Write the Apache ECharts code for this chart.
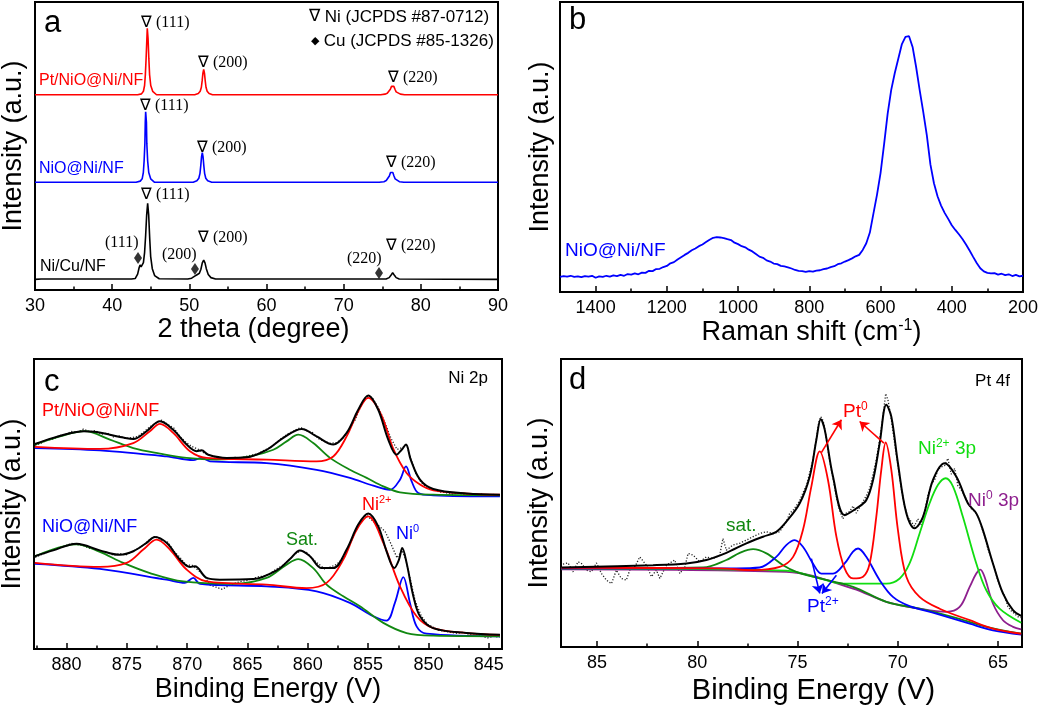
<!DOCTYPE html>
<html><head><meta charset="utf-8">
<script src="https://cdn.jsdelivr.net/npm/echarts@6/dist/echarts.min.js"></script>
<style>html,body{margin:0;padding:0;background:#fff}#c{width:1050px;height:706px}</style>
</head><body><div id="c"></div>
<script>
// ---------- Panel a: XRD ----------
const xrdPt = [[30,67.8],[43.3,67.8],[43.8,68.1],[44.05,69.0],[44.2,71.0],[44.3,74.7],[44.4,80.5],[44.5,87.4],[44.55,90.9],[44.65,87.4],[44.75,80.5],[44.85,74.7],[45.0,71.0],[45.25,69.0],[45.75,67.8],[50.7,67.8],[51.16,68.2],[51.41,69.0],[51.56,70.4],[51.66,72.6],[51.76,75.3],[51.86,76.6],[51.96,75.3],[52.06,72.6],[52.16,70.4],[52.31,69.0],[52.56,68.2],[53.0,67.8],[74.8,67.8],[75.35,68.0],[75.65,68.3],[75.9,68.8],[76.05,69.7],[76.2,70.7],[76.35,71.2],[76.5,70.7],[76.65,69.7],[76.8,68.8],[77.05,68.3],[77.35,68.0],[77.9,67.8],[90,67.8]];
const xrdNiO = [[30,37.4],[43.1,37.4],[43.64,37.8],[43.89,38.6],[44.04,40.8],[44.14,44.8],[44.24,50.9],[44.29,58.2],[44.34,61.9],[44.44,58.2],[44.49,50.9],[44.6,44.8],[44.74,40.8],[44.99,38.6],[45.5,37.4],[50.5,37.4],[50.98,37.9],[51.23,38.8],[51.38,40.5],[51.48,43.1],[51.58,46.2],[51.68,47.7],[51.78,46.2],[51.88,43.1],[51.98,40.5],[52.13,38.8],[52.38,37.9],[52.9,37.4],[74.6,37.4],[75.22,37.6],[75.52,38.0],[75.77,38.6],[75.92,39.6],[76.07,40.8],[76.22,41.4],[76.37,40.8],[76.52,39.6],[76.67,38.6],[76.92,38.0],[77.22,37.6],[77.8,37.4],[90,37.4]];
const xrdNiCu = [[30,3.7],[30.8,3.8],[31.0,4.2],[31.2,3.8],[42.5,3.8],[43.0,4.0],[43.3,5.5],[43.5,7.8],[43.62,8.7],[43.75,8.0],[43.9,7.6],[44.05,9.5],[44.2,13.0],[44.34,19.0],[44.47,26.0],[44.6,30.1],[44.73,26.1],[44.86,18.2],[44.99,11.6],[45.2,7.4],[45.5,5.0],[46.1,3.9],[49.8,3.8],[50.3,4.1],[50.7,4.8],[51.0,5.3],[51.3,5.8],[51.5,7.2],[51.68,9.4],[51.86,10.4],[52.03,9.4],[52.2,7.4],[52.45,5.4],[52.8,4.3],[53.4,3.8],[75.5,3.8],[75.9,4.3],[76.1,5.0],[76.35,6.0],[76.6,5.0],[76.8,4.3],[77.2,3.8],[90,3.7]];
const cuMarks = [[43.35,11.1],[50.73,7.3],[74.58,5.9]];

// ---------- Panel b: Raman ----------
const raman = [[1500,5.2],[1490,5.5],[1480,5.3],[1470,5.6],[1460,5.2],[1450,5.4],[1440,5.1],[1430,5.5],[1420,5.3],[1410,5.6],[1400,4.9],[1390,5.4],[1380,5.2],[1370,5.6],[1360,5.3],[1350,5.7],[1340,5.5],[1330,5.9],[1320,5.6],[1310,6.2],[1300,6.0],[1290,6.4],[1280,6.1],[1270,6.7],[1260,6.6],[1250,7.3],[1240,7.2],[1230,7.9],[1220,8.0],[1210,8.6],[1200,9.0],[1190,9.9],[1180,10.3],[1170,11.2],[1160,12.0],[1150,12.8],[1140,13.5],[1130,14.4],[1120,15.0],[1110,15.8],[1100,16.4],[1090,17.2],[1080,18.0],[1070,18.7],[1060,18.9],[1050,18.8],[1040,18.6],[1030,18.2],[1020,17.9],[1010,17.0],[1000,16.5],[990,15.8],[980,15.4],[970,14.6],[960,14.0],[950,13.1],[940,12.2],[930,11.8],[920,10.9],[910,10.5],[900,9.8],[890,9.6],[880,9.0],[870,8.8],[860,8.5],[850,8.1],[840,7.6],[830,7.3],[820,7.2],[810,6.9],[800,7.2],[790,7.0],[780,7.4],[770,7.5],[760,7.9],[750,8.1],[740,8.6],[730,8.9],[720,9.6],[710,9.9],[700,10.5],[690,11.0],[680,11.6],[670,12.3],[660,12.8],[650,14.5],[640,16.8],[630,20.5],[620,27.0],[610,33.5],[600,41.0],[590,51.0],[580,61.5],[570,69.7],[560,75.5],[550,80.5],[540,85.5],[530,88.0],[520,88.2],[510,84.5],[500,77.5],[490,69.5],[480,62.0],[470,54.0],[460,44.0],[450,37.5],[440,33.0],[430,29.8],[420,27.3],[410,25.2],[400,23.0],[390,21.4],[380,19.9],[370,18.3],[360,16.4],[350,14.3],[340,12.1],[330,10.0],[320,8.2],[310,7.1],[300,6.6],[290,6.4],[280,6.5],[270,6.0],[260,6.3],[250,5.8],[240,6.1],[230,5.5],[220,5.9],[210,5.4],[200,5.6]];

// ---------- Panel c: Ni 2p XPS ----------
const cPtRaw = [[882.6,70.2],[882.1,71.0],[881.6,72.0],[881.1,72.4],[880.6,73.6],[880.1,73.9],[879.6,75.0],[879.1,74.7],[878.6,75.8],[878.1,74.9],[877.6,75.3],[877.1,74.1],[876.6,74.4],[876.1,73.1],[875.6,73.5],[875.1,72.6],[874.6,72.9],[874.1,73.3],[873.6,74.8],[873.1,76.6],[872.6,77.9],[872.1,78.9],[871.6,77.4],[871.1,76.2],[870.6,73.2],[870.1,71.3],[869.6,69.8],[869.1,68.9],[868.6,67.6],[868.1,66.8],[867.6,66.2],[867.1,65.9],[866.6,65.4],[866.1,66.1],[865.6,65.8],[865.1,66.4],[864.6,66.9],[864.1,67.4],[863.6,68.6],[863.1,69.5],[862.6,71.2],[862.1,72.9],[861.6,74.3],[861.1,75.3],[860.6,76.4],[860.1,75.3],[859.6,74.6],[859.1,72.5],[858.6,71.5],[858.1,70.9],[857.6,71.2],[857.1,72.6],[856.6,75.6],[856.1,78.8],[855.6,83.8],[855.1,87.0],[854.6,86.3],[854.1,82.9],[853.6,78.0],[853.1,72.6],[852.6,68.8],[852.1,69.6],[851.8,70.2],[851.5,66.3],[851.1,61.0],[850.6,57.4],[850.1,55.6],[849.6,55.2],[849.1,54.1],[848.6,54.0],[848.1,53.3],[847.6,53.8],[847.1,53.2],[846.6,53.6],[846.1,53.0],[845.6,53.4],[845.1,52.7],[844.6,53.3],[844.1,52.8]];
const cPtFit = [[882.63,70.7],[881.11,72.8],[879.8,74.3],[878.62,75.1],[877.5,74.8],[876.41,73.9],[875.3,72.9],[874.47,72.4],[873.37,75.1],[872.26,78.5],[871.16,75.6],[870.05,70.5],[869.22,68.2],[868.81,68.5],[868.25,67.0],[866.73,65.9],[865.07,66.1],[863.42,68.7],[862.03,72.8],[860.51,75.9],[859.27,73.3],[857.89,70.5],[856.78,74.5],[855.82,82.5],[854.99,87.4],[854.16,82.5],[853.33,72.2],[852.64,67.0],[852.22,68.7],[851.86,70.5],[851.47,65.3],[850.70,58.4],[849.60,55.2],[846.83,53.6],[844.07,53.2]];
const cPtNi2 = [[882.63,69.7],[877.24,69.0],[874.47,71.0],[873.09,75.1],[872.26,77.6],[871.16,74.5],[869.77,68.2],[868.39,65.9],[863.42,65.3],[859.27,64.7],[857.89,66.4],[856.78,73.3],[855.82,82.0],[854.99,86.6],[853.94,81.0],[852.91,69.0],[851.81,60.7],[850.70,56.7],[849.60,54.7],[846.83,53.6],[844.07,53.2]];
const cPtSat = [[882.63,70.5],[880.55,73.3],[878.48,75.1],[876.41,72.2],[874.47,69.3],[872.26,67.4],[870.05,65.9],[867.56,65.3],[864.80,66.4],[862.86,68.7],[861.76,71.6],[860.79,73.9],[859.55,71.0],[858.16,65.9],[856.51,61.8],[855.12,59.0],[853.74,56.1],[852.36,54.0],[849.60,53.2],[844.07,53.0]];
const cPtNi0 = [[882.63,69.3],[877.24,68.5],[871.71,66.4],[869.50,65.1],[868.81,65.9],[868.11,64.7],[863.42,64.1],[859.27,61.8],[856.51,59.0],[854.57,56.3],[853.19,54.9],[852.36,58.4],[851.86,63.0],[851.39,57.8],[850.84,53.8],[849.60,53.0],[844.07,52.6]];
const cNiRaw = [[882.6,31.6],[882.1,32.5],[881.6,33.4],[881.1,34.2],[880.6,34.9],[880.1,35.6],[879.6,36.4],[879.1,36.0],[878.6,35.6],[878.1,34.7],[877.6,34.6],[877.1,33.6],[876.6,33.3],[876.1,32.3],[875.6,32.9],[875.1,32.4],[874.6,33.5],[874.1,34.6],[873.6,35.9],[873.1,37.8],[872.6,38.9],[872.1,37.5],[871.6,36.8],[871.1,33.7],[870.6,31.6],[870.1,29.0],[869.6,28.9],[869.1,27.2],[868.6,25.3],[868.1,22.0],[867.6,21.3],[867.1,20.6],[866.6,21.7],[866.1,22.6],[865.6,23.2],[865.1,23.6],[864.6,24.2],[864.1,24.9],[863.6,25.2],[863.1,26.1],[862.6,27.6],[862.1,28.8],[861.6,30.5],[861.1,32.6],[860.6,33.9],[860.1,33.3],[859.6,31.0],[859.1,29.3],[858.6,27.6],[858.1,28.3],[857.6,29.2],[857.1,31.2],[856.6,35.3],[856.1,40.0],[855.6,43.8],[855.1,46.0],[854.6,44.1],[854.1,42.4],[853.6,40.6],[853.1,36.2],[852.6,31.4],[852.2,34.0],[851.9,31.2],[851.5,24.0],[851.1,16.6],[850.6,11.5],[850.1,8.6],[849.6,7.5],[849.1,6.4],[848.6,6.1],[848.1,5.7],[847.6,5.4],[847.1,5.8],[846.6,5.0],[846.1,5.3],[845.6,4.5],[845.1,3.8],[844.6,4.4],[844.1,4.1]];
const cNiFit = [[882.63,32.0],[881.11,34.0],[879.17,36.3],[877.24,34.0],[875.58,32.5],[874.47,33.7],[873.37,36.6],[872.68,38.6],[871.71,36.6],[870.60,30.8],[869.77,28.3],[869.36,28.5],[868.39,24.5],[867.29,23.9],[864.52,24.1],[862.59,27.1],[861.48,31.0],[860.65,34.0],[859.82,32.0],[858.86,27.9],[857.89,27.9],[856.78,34.3],[855.82,42.9],[854.99,46.7],[854.16,42.3],[853.47,33.7],[852.83,27.9],[852.44,30.8],[852.17,34.8],[851.81,29.7],[851.25,18.2],[850.70,11.3],[849.60,7.2],[846.83,5.5],[844.07,4.9]];
const cNiNi2 = [[882.63,29.7],[877.24,28.3],[875.02,29.7],[873.64,34.3],[872.54,37.7],[871.43,34.3],[870.05,27.4],[868.39,23.3],[863.42,22.2],[860.10,21.0],[858.44,22.8],[857.06,30.8],[855.95,41.1],[854.99,45.7],[853.74,36.6],[852.36,21.6],[850.98,11.3],[849.60,7.2],[846.83,5.5],[844.07,4.9]];
const cNiSat = [[882.63,32.0],[879.17,36.1],[877.24,33.5],[875.30,29.7],[873.09,26.2],[870.33,23.3],[866.18,22.5],[863.42,24.5],[861.76,29.1],[860.79,31.0],[859.55,27.9],[858.44,22.2],[857.06,18.2],[855.68,14.7],[853.74,9.0],[851.81,5.5],[849.60,4.6],[844.07,4.4]];
const cNiNi0 = [[882.63,29.4],[877.24,27.6],[871.71,23.9],[870.19,22.8],[869.50,24.5],[868.94,22.5],[863.42,21.6],[859.27,19.9],[856.51,15.9],[854.57,11.3],[853.47,9.8],[852.78,15.9],[852.08,24.8],[851.53,15.9],[850.98,7.8],[850.15,5.3],[844.07,4.4]];

// ---------- Panel d: Pt 4f XPS ----------
const dRaw = [[86.70,28.8],[86.45,29.2],[86.20,26.1],[85.95,29.6],[85.78,29.0],[85.53,26.7],[85.28,26.1],[85.03,29.2],[84.78,25.5],[84.53,23.2],[84.28,22.0],[84.04,26.7],[83.79,23.8],[83.54,23.2],[83.37,26.7],[83.10,28.0],[82.87,31.3],[82.54,28.4],[82.29,24.4],[82.04,26.7],[81.87,23.8],[81.54,28.4],[81.13,30.2],[80.87,25.5],[80.62,27.8],[80.46,32.5],[80.21,31.9],[79.88,29.6],[79.55,31.3],[79.21,30.7],[78.88,31.9],[78.72,37.7],[78.55,33.6],[78.22,35.4],[77.89,36.0],[77.55,37.1],[77.22,38.3],[76.89,39.4],[76.56,40.0],[76.22,39.4],[75.89,40.0],[75.56,43.5],[75.39,46.4],[75.22,47.5],[75.06,49.0],[74.89,50.8],[74.73,53.5],[74.56,56.0],[74.39,60.5],[74.23,65.0],[74.06,72.5],[73.94,78.0],[73.84,80.0],[73.72,78.5],[73.60,74.0],[73.48,68.5],[73.35,63.0],[73.23,58.5],[73.06,52.0],[72.90,47.5],[72.74,44.5],[72.57,46.5],[72.40,47.0],[72.23,49.0],[72.07,46.5],[71.90,48.5],[71.73,50.5],[71.57,52.5],[71.40,55.0],[71.23,60.0],[71.07,65.0],[70.90,72.0],[70.74,80.0],[70.60,88.0],[70.48,85.5],[70.32,79.0],[70.16,71.0],[69.99,63.0],[69.82,55.0],[69.66,49.0],[69.49,45.0],[69.33,43.5],[69.16,42.0],[69.00,44.5],[68.83,42.5],[68.66,47.0],[68.50,52.5],[68.33,56.5],[68.16,58.0],[68.00,61.5],[67.83,62.5],[67.66,63.0],[67.50,65.5],[67.33,60.0],[67.16,62.0],[67.00,56.0],[66.83,54.5],[66.66,52.5],[66.50,50.0],[66.33,48.0],[66.16,47.0],[66.00,45.5],[65.83,42.0],[65.66,38.5],[65.50,34.0],[65.33,31.0],[65.16,27.0],[65.00,23.0],[64.83,20.0],[64.66,17.5],[64.50,14.0],[64.33,12.5],[64.16,11.5],[64.00,10.5],[63.84,10.2]];
const dFit = [[86.78,27.6],[82.21,28.4],[80.54,29.0],[79.55,30.2],[78.55,32.7],[77.55,36.0],[76.72,38.3],[76.06,40.0],[75.56,43.5],[74.89,49.9],[74.39,59.2],[74.06,71.9],[73.84,79.1],[73.64,75.4],[73.23,59.2],[72.65,45.8],[72.07,48.1],[71.57,51.0],[71.23,58.0],[70.90,70.8],[70.57,84.1],[70.32,80.0],[69.99,63.8],[69.57,46.4],[69.16,41.2],[68.74,45.2],[68.24,58.0],[67.66,63.8],[67.08,59.2],[66.50,49.9],[66.08,46.4],[65.75,40.6],[65.25,29.0],[64.75,18.6],[64.25,12.8],[63.84,10.8]];
const dPt0 = [[86.78,27.5],[78.88,27.3],[77.22,26.7],[75.89,27.8],[75.22,31.3],[74.73,40.6],[74.31,55.7],[73.89,67.9],[73.48,58.0],[73.06,38.3],[72.65,27.3],[72.23,23.8],[71.73,24.4],[71.40,29.0],[71.07,45.2],[70.82,61.5],[70.60,71.0],[70.32,61.5],[69.99,40.6],[69.57,24.4],[68.91,17.4],[67.91,13.3],[66.41,9.3],[65.25,6.4],[63.84,4.6]];
const dPt2 = [[86.78,27.3],[78.05,27.3],[76.89,27.6],[76.06,31.3],[75.56,35.4],[75.14,37.1],[74.73,34.8],[74.23,29.0],[73.81,25.5],[73.23,25.5],[72.65,29.0],[72.23,33.1],[71.98,34.2],[71.57,31.3],[70.90,23.2],[70.24,17.4],[69.41,14.2],[68.08,11.6],[66.41,8.1],[65.25,5.8],[63.84,4.3]];
const dSat = [[86.78,27.3],[79.71,27.6],[78.55,30.2],[77.88,32.7],[77.22,34.0],[76.55,32.5],[75.72,28.4],[75.06,26.1],[73.89,23.8],[72.23,20.9],[70.57,15.7],[68.91,13.3],[67.24,10.4],[65.58,7.0],[63.84,4.6]];
const dNi2 = [[86.78,27.3],[75.56,26.5],[73.89,23.8],[73.06,22.3],[72.23,22.0],[70.57,22.0],[69.90,23.8],[69.41,29.0],[68.91,39.4],[68.41,49.9],[67.99,56.3],[67.61,58.6],[67.24,55.7],[66.75,45.2],[66.08,29.0],[65.58,19.7],[64.92,13.3],[63.84,8.4]];
const dNi0 = [[86.78,27.0],[75.56,26.1],[72.23,20.3],[70.57,15.7],[68.91,13.3],[67.58,12.2],[66.91,13.9],[66.41,20.9],[66.08,25.5],[65.88,26.9],[65.67,24.4],[65.25,15.1],[64.75,9.3],[64.25,7.0],[63.84,6.1]];

// tick labels
const cTicks = [845,850,855,860,865,870,875,880];
const cMinor = [847.5,852.5,857.5,862.5,867.5,872.5,877.5,882.5];
const dTicks = [65,70,75,80,85];
const dMinor = [67.5,72.5,77.5,82.5];

const SANS = 'Liberation Sans, Arial, sans-serif';
const SERIF = 'Liberation Serif, Times New Roman, serif';
const RED = '#ff0000', BLUE = '#0000ff', GREEN = '#118811', LGREEN = '#11dd11', PURPLE = '#8e1f8e';

const chart = echarts.init(document.getElementById('c'), null, {renderer: 'canvas'});

function grid(l, t, w, h) {
  return {left: l, top: t, width: w, height: h, show: true, borderColor: '#000', borderWidth: 2,
          backgroundColor: 'transparent', outerBoundsMode: 'none', containLabel: false};
}
const plainFmt = v => String(v);
function xAx(gi, o) {
  return Object.assign({
    type: 'value', gridIndex: gi, position: 'bottom',
    axisLine: {show: true, onZero: false, lineStyle: {color: '#000', width: 2}},
    axisTick: {show: true, inside: true, length: 6, lineStyle: {color: '#000', width: 1.5}},
    minorTick: {show: false},
    splitLine: {show: false},
    axisLabel: {color: '#000', fontSize: 18, fontFamily: SANS, margin: 7, formatter: plainFmt},
    nameLocation: 'middle',
    nameTextStyle: {color: '#000', fontSize: 27, fontFamily: SANS}
  }, o);
}
function minorAx(gi, mn, mx, vals) {
  return {type: 'value', gridIndex: gi, position: 'bottom', min: mn, max: mx, inverse: true,
    axisLine: {show: false}, axisLabel: {show: false}, splitLine: {show: false},
    axisTick: {show: true, inside: true, length: 3.5, customValues: vals, lineStyle: {color: '#000', width: 1.5}}};
}
function yAx(gi, gap) {
  return {type: 'value', gridIndex: gi, min: 0, max: 100,
    axisLine: {show: false}, axisTick: {show: false}, axisLabel: {show: false}, splitLine: {show: false},
    name: 'Intensity (a.u.)', nameLocation: 'middle', nameGap: gap,
    nameTextStyle: {color: '#000', fontSize: 27, fontFamily: SANS}};
}
function line(xi, yi, data, color, width, smooth, extra) {
  return Object.assign({type: 'line', xAxisIndex: xi, yAxisIndex: yi, data: data, symbol: 'none',
    smooth: smooth || false, clip: true, silent: true,
    lineStyle: {color: color, width: width}, itemStyle: {color: color}}, extra || {});
}
function dotted(xi, yi, data) {
  return line(xi, yi, data, '#222', 1.3, false, {lineStyle: {color: '#222', width: 1.3, type: [1.2, 1.8]}});
}
const supRich = (size, col) => ({
  sup: {fontSize: size, fontFamily: SANS, fill: col, color: col, padding: [0, 0, Math.round(size * 0.9), 0]}
});
function T(x, y, text, size, color, family, align, rich) {
  const st = {text: text, fill: color, fontSize: size, fontFamily: family || SANS,
    align: align || 'left', textAlign: align || 'left', verticalAlign: 'middle', textVerticalAlign: 'middle'};
  if (rich) st.rich = rich;
  return {type: 'text', x: x, y: y, silent: true, z: 100, style: st};
}

const graphics = [
  // panel letters
  T(44, 23, 'a', 31, '#000'), T(569, 20, 'b', 31, '#000'), T(44, 382, 'c', 31, '#000'), T(569, 380, 'd', 31, '#000'),
  // panel a legend
  T(309, 17, '{s|∇} Ni (JCPDS #87-0712)', 17, '#000', SANS, 'left', {s: {fontFamily: SERIF, fontSize: 17, fill: '#000'}}),
  T(311, 41, '{s|◆} Cu (JCPDS #85-1326)', 17, '#000', SANS, 'left', {s: {fontFamily: SANS, fontSize: 11, fill: '#000'}}),
  // panel a series names
  T(39, 81, 'Pt/NiO@Ni/NF', 16, RED), T(39, 169, 'NiO@Ni/NF', 16, BLUE), T(40, 267, 'Ni/Cu/NF', 16, '#000'),
  // panel a peak indices
  T(141, 23, '∇ (111)', 16, '#000', SERIF), T(198, 63, '∇ (200)', 16, '#000', SERIF), T(388, 78, '∇ (220)', 16, '#000', SERIF),
  T(140, 106, '∇ (111)', 16, '#000', SERIF), T(197, 148, '∇ (200)', 16, '#000', SERIF), T(386, 163, '∇ (220)', 16, '#000', SERIF),
  T(141, 195, '∇ (111)', 16, '#000', SERIF), T(198, 238, '∇ (200)', 16, '#000', SERIF), T(386, 246, '∇ (220)', 16, '#000', SERIF),
  T(105, 243, '(111)', 16, '#000', SERIF), T(162, 255, '(200)', 16, '#000', SERIF), T(347, 259, '(220)', 16, '#000', SERIF),
  // panel b
  T(565, 251, 'NiO@Ni/NF', 19, BLUE),
  // panel c
  T(488, 378, 'Ni 2p', 17, '#000', SANS, 'right'),
  T(42, 411, 'Pt/NiO@Ni/NF', 18, RED), T(42, 527, 'NiO@Ni/NF', 18, BLUE),
  T(286, 540, 'Sat.', 18, GREEN),
  T(362, 505, 'Ni{sup|2+}', 18, RED, SANS, 'left', supRich(11, RED)),
  T(396, 534, 'Ni{sup|0}', 18, BLUE, SANS, 'left', supRich(11, BLUE)),
  // panel d
  T(1010, 381, 'Pt 4f', 17, '#000', SANS, 'right'),
  T(726, 526, 'sat.', 19, GREEN),
  T(843, 412, 'Pt{sup|0}', 19, RED, SANS, 'left', supRich(12, RED)),
  T(918, 449, 'Ni{sup|2+} 3p', 19, LGREEN, SANS, 'left', supRich(12, LGREEN)),
  T(968, 501, 'Ni{sup|0} 3p', 19, PURPLE, SANS, 'left', supRich(12, PURPLE)),
  T(807, 607, 'Pt{sup|2+}', 19, BLUE, SANS, 'left', supRich(12, BLUE))
];

const option = {
  animation: false,
  backgroundColor: '#fff',
  grid: [grid(35, 2, 463, 288), grid(560, 2, 463, 290), grid(34, 359, 468, 290), grid(561, 359, 461, 288)],
  xAxis: [
    xAx(0, {min: 30, max: 90, interval: 10, minorTick: {show: true, splitNumber: 2, length: 3.5, lineStyle: {color: '#000', width: 1.5}},
      name: '2 theta (degree)', nameGap: 23, nameTextStyle: {color: '#000', fontSize: 27, fontFamily: SANS, padding: [0, 26, 0, 0]}}),
    xAx(1, {min: 200, max: 1500, interval: 200, inverse: true, minorTick: {show: true, splitNumber: 2, length: 3.5, lineStyle: {color: '#000', width: 1.5}},
      name: 'Raman shift (cm{sup|-1})', nameGap: 22,
      nameTextStyle: {color: '#000', fontSize: 27, fontFamily: SANS, padding: [0, 0, 0, 40],
        rich: {sup: {fontSize: 16, fontFamily: SANS, color: '#000', padding: [0, 0, 14, 0]}}}}),
    xAx(2, {min: 843.9, max: 882.7, inverse: true,
      axisTick: {show: true, inside: true, length: 6, customValues: cTicks, lineStyle: {color: '#000', width: 1.5}},
      axisLabel: {color: '#000', fontSize: 18, fontFamily: SANS, margin: 7, customValues: cTicks, formatter: plainFmt},
      name: 'Binding Energy (V)', nameGap: 27}),
    minorAx(2, 843.9, 882.7, cMinor),
    xAx(3, {min: 63.8, max: 86.8, inverse: true,
      axisTick: {show: true, inside: true, length: 6, customValues: dTicks, lineStyle: {color: '#000', width: 1.5}},
      axisLabel: {color: '#000', fontSize: 18, fontFamily: SANS, margin: 7, customValues: dTicks, formatter: plainFmt},
      name: 'Binding Energy (V)', nameGap: 29, nameTextStyle: {color: '#000', fontSize: 29, fontFamily: SANS, padding: [0, 0, 0, 44]}}),
    minorAx(3, 63.8, 86.8, dMinor)
  ],
  yAxis: [yAx(0, 8), yAx(1, 6), yAx(2, 8), yAx(3, 8)],
  graphic: graphics,
  series: [
    // a
    line(0, 0, xrdPt, RED, 1.6),
    line(0, 0, xrdNiO, BLUE, 1.6),
    line(0, 0, xrdNiCu, '#000', 1.6),
    {type: 'scatter', xAxisIndex: 0, yAxisIndex: 0, data: cuMarks, symbol: 'diamond', symbolSize: [8, 12],
     itemStyle: {color: '#000'}, silent: true},
    // b
    line(1, 1, raman, BLUE, 1.8),
    // c
    dotted(2, 2, cPtRaw), dotted(2, 2, cNiRaw),
    line(2, 2, cPtNi0, BLUE, 1.8, 0.35), line(2, 2, cNiNi0, BLUE, 1.8, 0.35),
    line(2, 2, cPtSat, GREEN, 1.8, 0.35), line(2, 2, cNiSat, GREEN, 1.8, 0.35),
    line(2, 2, cPtNi2, RED, 1.8, 0.35), line(2, 2, cNiNi2, RED, 1.8, 0.35),
    line(2, 2, cPtFit, '#000', 2, 0.35), line(2, 2, cNiFit, '#000', 2, 0.35),
    // d
    dotted(4, 3, dRaw),
    line(4, 3, dNi0, PURPLE, 1.8, 0.35),
    line(4, 3, dNi2, LGREEN, 1.8, 0.35),
    line(4, 3, dSat, GREEN, 1.8, 0.35),
    line(4, 3, dPt2, BLUE, 1.8, 0.35, {markLine: {silent: true, symbol: ['none', 'arrow'], symbolSize: 9, animation: false,
      label: {show: false}, lineStyle: {color: BLUE, width: 1.6, type: 'solid'},
      data: [[{coord: [74.31, 30.7]}, {coord: [73.89, 18.6]}], [{coord: [73.06, 24.9]}, {coord: [73.78, 18.6]}]]}}),
    line(4, 3, dPt0, RED, 1.8, 0.35, {markLine: {silent: true, symbol: ['none', 'arrow'], symbolSize: 9, animation: false,
      label: {show: false}, lineStyle: {color: RED, width: 1.6, type: 'solid'},
      data: [[{coord: [73.81, 67.5]}, {coord: [72.81, 78.9]}], [{coord: [70.69, 70.8]}, {coord: [71.90, 78.3]}]]}}),
    line(4, 3, dFit, '#000', 2, 0.35)
  ]
};
chart.setOption(option);
</script></body></html>
